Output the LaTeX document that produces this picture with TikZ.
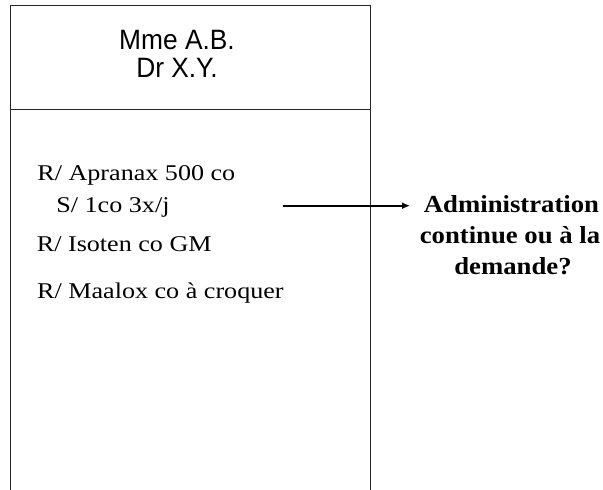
\documentclass[tikz,border=0pt]{standalone}
\usepackage{fontspec}
\setmainfont{Liberation Serif}
\newfontfamily\hdrfont{Liberation Sans}
\tikzset{
  frame/.style={draw=black!85, line width=0.9pt},
  hdr/.style={anchor=base, inner sep=0pt, font=\hdrfont\fontsize{28}{32}\selectfont},
  body/.style={anchor=base west, inner sep=0pt, font=\fontsize{22.5}{26}\selectfont},
  note/.style={anchor=base, inner sep=0pt, font=\bfseries\fontsize{24.5}{28}\selectfont},
  arr/.style={line width=1.8pt, -{Latex[length=8pt,width=7pt]}}
}
\usetikzlibrary{arrows.meta}
\begin{document}
\begin{tikzpicture}[x=1pt,y=1pt]
\useasboundingbox (0,0) rectangle (603,490);
% frame
\coordinate (bl) at (10.7,0);
\coordinate (tl) at (10.7,485);
\coordinate (tr) at (370.3,485);
\coordinate (br) at (370.3,0);
\coordinate (ml) at (10.7,380.5);
\coordinate (mr) at (370.3,380.5);
\draw[frame] (bl) -- (tl) -- (tr) -- (br);
\draw[frame] (ml) -- (mr);
% header
\node[hdr] (h1) at (177,440.7) {\scalebox{0.94}[1]{Mme A.B.}};
\node[hdr] (h2) at (177,412.3) {\scalebox{0.94}[1]{Dr X.Y.}};
% prescriptions
\node[body] (r1) at (37.2,309.3) {\scalebox{1.16}[1]{R/ Apranax 500 co}};
\node[body] (s1) at (56.2,277) {\scalebox{1.16}[1]{S/ 1co 3x/j}};
\node[body] (r2) at (36.7,238.3) {\scalebox{1.16}[1]{R/ Isoten co GM}};
\node[body] (r3) at (37,191) {\scalebox{1.16}[1]{R/ Maalox co à croquer}};
% question
\node[note] (q1) at (511.5,277.3) {\scalebox{1.09}[1]{Administration}};
\node[note] (q2) at (510,246.7) {\scalebox{1.09}[1]{continue ou à la}};
\node[note] (q3) at (513,215) {\scalebox{1.09}[1]{demande?}};
% arrow
\coordinate (as) at (282.7,284.3);
\coordinate (ae) at (410,284.3);
\draw[arr] (as) -- (ae);
\end{tikzpicture}
\end{document}
